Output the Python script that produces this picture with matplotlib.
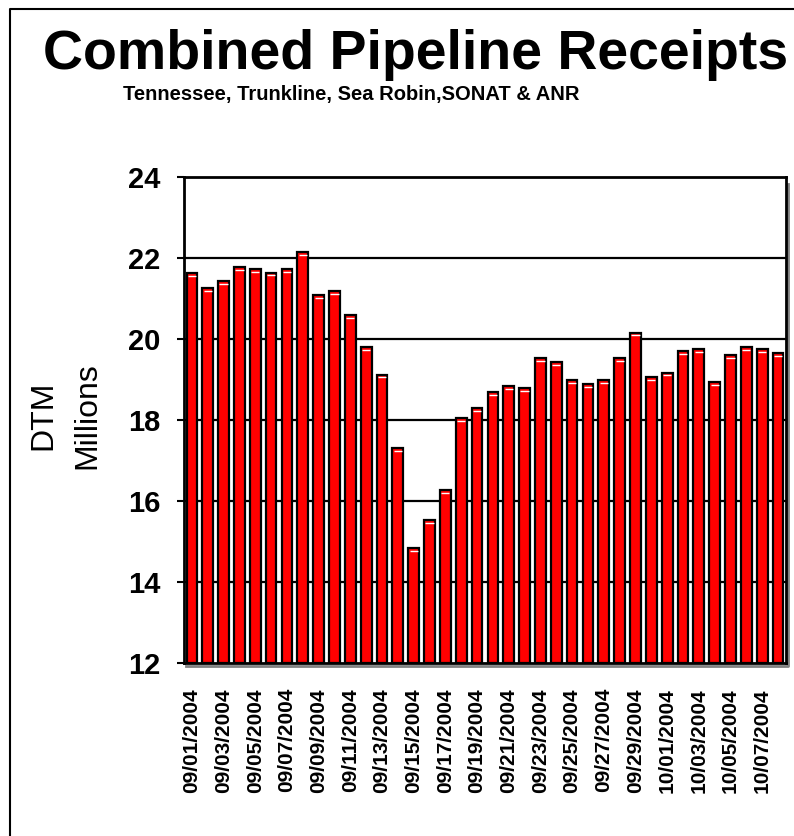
import matplotlib.pyplot as plt
import matplotlib.transforms as mtransforms
from matplotlib.lines import Line2D
import numpy as np

plt.rcParams['font.family'] = ['Liberation Sans', 'DejaVu Sans']

dates = ["09/%02d/2004" % d for d in range(1, 31)] + ["10/%02d/2004" % d for d in range(1, 9)]
receipts = [21.63, 21.25, 21.44, 21.78, 21.73, 21.64, 21.73, 22.14, 21.09, 21.19,
            20.60, 19.81, 19.12, 17.30, 14.84, 15.53, 16.27, 18.04, 18.29, 18.68,
            18.83, 18.78, 19.52, 19.42, 18.98, 18.88, 18.98, 19.52, 20.16, 19.07,
            19.17, 19.71, 19.76, 18.93, 19.61, 19.81, 19.76, 19.66]
yticks = [12, 14, 16, 18, 20, 22, 24]

fig = plt.figure(figsize=(7.94, 8.36), dpi=100)
ax = fig.add_axes([0.2317, 0.2069, 0.7582, 0.5814])

x = np.arange(len(receipts))
vals = np.array(receipts)

########  gridlines + bars  ########

for yv in yticks[1:-1]:
    ax.axhline(yv, color="black", lw=1.6, zorder=1)

ax.bar(x, vals - 12, bottom=12, width=0.68, color="#ff0000",
       edgecolor="black", linewidth=1.6, zorder=2)
# little white highlight under the top edge of each bar
ax.hlines(vals - 0.07, x - 0.26, x + 0.26, color="white", lw=1.0, zorder=3)

ax.set_xlim(-0.5, len(receipts) - 0.5)
ax.set_ylim(12, 24)
ax.set_yticks(yticks)
ax.set_yticklabels([str(v) for v in yticks], fontsize=21, fontweight="bold")
ax.set_xticks(x[::2])
ax.set_xticklabels(dates[::2], rotation=90, fontsize=15, fontweight="bold")
ax.tick_params(axis="x", length=0, pad=18)
ax.tick_params(axis="y", direction="out", length=5, width=1.5, pad=12)

for s in ax.spines.values():
    s.set_linewidth(2)

# grey shadow under the x axis and right side
shadow = mtransforms.offset_copy(ax.transAxes, fig=fig, x=2, y=-2.5, units="dots")
ax.add_line(Line2D([0, 1, 1], [0, 0, 0.99], transform=shadow, color="#808080",
                   lw=2, clip_on=False, zorder=0))

ax.set_ylabel("DTM\nMillions", fontsize=23, linespacing=1.62)
ax.yaxis.set_label_coords(-0.135, 0.51)

########  titles  ########

fig.text(0.523, 0.934, "Combined Pipeline Receipts", ha="center", va="center",
         fontsize=40, fontweight="bold")
fig.text(0.442, 0.887, "Tennessee, Trunkline, Sea Robin,SONAT & ANR", ha="center",
         va="center", fontsize=14.5, fontweight="bold")

# frame lines at the left/top of the picture
fig.add_artist(Line2D([0.0126, 0.0126, 1.0], [0.0, 0.9892, 0.9892],
                      transform=fig.transFigure, color="black", lw=1.5))

plt.savefig("out.png", dpi=100)
plt.close()
